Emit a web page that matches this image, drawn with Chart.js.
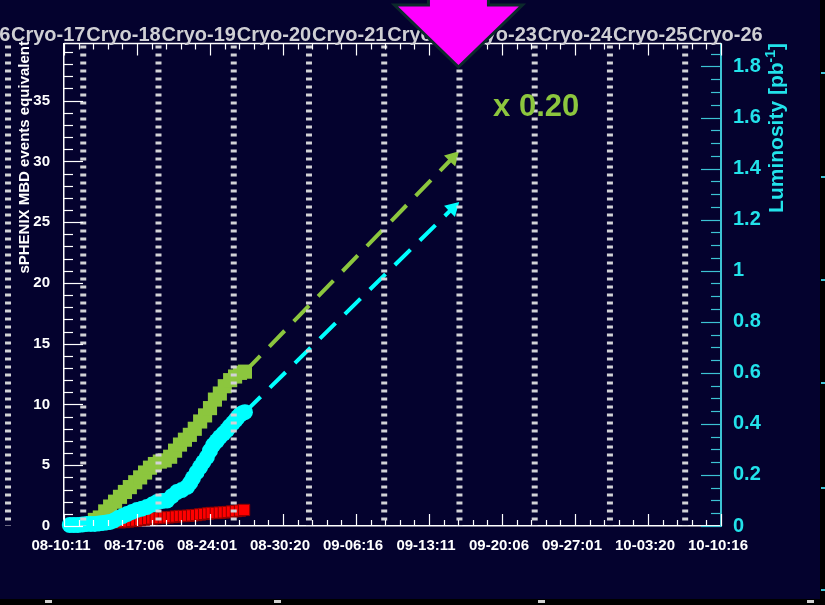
<!DOCTYPE html>
<html lang="en">
<head>
<meta charset="UTF-8">
<title>sPHENIX MBD events and luminosity</title>
<script src="https://cdn.jsdelivr.net/npm/chart.js"></script>
<style>
  html, body { margin: 0; padding: 0; background: #04022e; }
  #wrap { width: 825px; height: 605px; }
</style>
</head>
<body>
<div id="wrap"><canvas id="lumiChart" width="825" height="605"></canvas></div>
<script>
// x values are hours since 08-10 11:00
const xTickLabels = ["08-10:11", "08-17:06", "08-24:01", "08-30:20", "09-06:16",
                     "09-13:11", "09-20:06", "09-27:01", "10-03:20", "10-10:16"];
const xTickStep = 163;

// weekly cryo markers
const cryoNames = ["Cryo-16", "Cryo-17", "Cryo-18", "Cryo-19", "Cryo-20", "Cryo-21",
                   "Cryo-22", "Cryo-23", "Cryo-24", "Cryo-25", "Cryo-26"];
const cryoHours = [-293, -125, 43, 211, 379, 547, 715, 883, 1051, 1219, 1387];
const arrowCryo = "Cryo-23";

// MBD events (x 0.20), left axis
const greenHours  = [69, 80, 92, 103, 114, 125, 136, 147, 159, 170, 181, 192, 203, 214, 225, 237,
                     248, 259, 270, 281, 292, 304, 315, 326, 337, 348, 359, 371, 382, 393, 404];
const greenEvents = [0.5, 0.7, 1.2, 1.6, 2.0, 2.4, 2.8, 3.2, 3.6, 4.0, 4.4, 4.8, 5.1, 5.3, 5.4, 5.7,
                     6.2, 6.7, 7.1, 7.5, 8.0, 8.6, 9.1, 9.7, 10.4, 10.9, 11.5, 12.0, 12.3, 12.6, 12.7];

// luminosity, right axis
const cyanHours = [13, 22, 31, 41, 51, 60, 69, 78, 87, 95, 103, 112, 121, 131, 141, 152, 163, 174,
                   185, 197, 208, 219, 230, 241, 252, 263, 275, 282, 288, 296, 304, 311, 319, 326,
                   333, 341, 348, 356, 364, 370, 377, 383, 388, 393, 398, 404];
const cyanLumi  = [0.004, 0.004, 0.004, 0.006, 0.008, 0.008, 0.008, 0.01, 0.012, 0.014, 0.016, 0.022,
                   0.031, 0.039, 0.047, 0.055, 0.063, 0.068, 0.074, 0.084, 0.094, 0.098, 0.10, 0.117,
                   0.133, 0.141, 0.153, 0.17, 0.188, 0.21, 0.231, 0.25, 0.27, 0.295, 0.317, 0.333,
                   0.348, 0.362, 0.376, 0.39, 0.403, 0.415, 0.426, 0.436, 0.442, 0.446];

// red series, left axis
const redHours  = [125, 134, 143, 152, 161, 170, 179, 188, 197, 205, 214, 223, 232, 241, 250, 259,
                   268, 277, 286, 295, 304, 313, 322, 330, 339, 348, 357, 366, 375, 384, 393, 402];
const redEvents = [0.3, 0.33, 0.37, 0.41, 0.45, 0.49, 0.53, 0.58, 0.62, 0.66, 0.66, 0.68, 0.71, 0.74,
                   0.78, 0.82, 0.82, 0.84, 0.87, 0.9, 0.95, 0.99, 1.03, 1.07, 1.07, 1.1, 1.12, 1.15,
                   1.19, 1.23, 1.27, 1.32];

// projections to the arrow
const greenProjHours = [404, 868];
const greenProjEvents = [12.7, 30.3];
const cyanProjHours = [404, 868];
const cyanProjLumi = [0.446, 1.245];

const scaleNote = { text: "x 0.20", hour: 958, events: 33.7 };

const bg = '#04022e';
const green = '#8cc63e';
const cyan = '#00ffff';
const axisCyan = '#3cc3d3';
const labelCyan = '#22e2ea';
const font = "'Liberation Sans', Arial, Helvetica, sans-serif";
Chart.defaults.font.family = font;

const pts = (xs, ys) => xs.map((x, i) => ({ x: x, y: ys[i] }));

function line(ctx, x1, y1, x2, y2) {
  ctx.beginPath();
  ctx.moveTo(x1, y1);
  ctx.lineTo(x2, y2);
  ctx.stroke();
}

const rootDecor = {
  id: 'rootDecor',
  beforeDraw(chart) {
    const ctx = chart.ctx;
    ctx.save();
    ctx.fillStyle = bg;
    ctx.fillRect(0, 0, chart.width, chart.height);
    ctx.restore();
  },
  afterDatasetsDraw(chart) {
    // dotted cryo lines on top of the data
    const ctx = chart.ctx;
    const { top, bottom } = chart.chartArea;
    const xs = chart.scales.x;
    ctx.save();
    ctx.strokeStyle = '#d2d2d6';
    ctx.lineWidth = 6;
    ctx.setLineDash([3, 5]);
    cryoHours.forEach(h => {
      const px = xs.getPixelForValue(h);
      line(ctx, px, top + 2, px, bottom);
    });
    ctx.restore();
  },
  afterDraw(chart) {
    const ctx = chart.ctx;
    const { left, right, top, bottom } = chart.chartArea;
    const xs = chart.scales.x, yl = chart.scales.y, yr = chart.scales.yLumi;
    ctx.save();

    // frame ticks
    ctx.strokeStyle = '#ffffff';
    ctx.lineWidth = 1.5;
    line(ctx, left, top, right, top);
    ctx.lineWidth = 1.2;
    for (let i = 0; i <= 45; i++) {
      const px = Math.round(xs.getPixelForValue(i * xTickStep / 5)) + 0.5;
      const len = i % 5 === 0 ? 12 : 6;
      line(ctx, px, bottom, px, bottom - len);
      line(ctx, px, top, px, top + len);
    }
    for (let v = 0; v <= 39; v++) {
      const py = Math.round(yl.getPixelForValue(v)) + 0.5;
      line(ctx, left, py, left + (v % 5 === 0 ? 19 : 9), py);
    }
    ctx.strokeStyle = axisCyan;
    for (let i = 0; i <= 37; i++) {
      const py = Math.round(yr.getPixelForValue(i * 0.05)) + 0.5;
      line(ctx, right, py, right - (i % 4 === 0 ? 20 : 10), py);
    }

    // cryo labels
    ctx.fillStyle = '#cfcfd4';
    ctx.font = 'bold 20px ' + font;
    ctx.textAlign = 'left';
    ctx.textBaseline = 'alphabetic';
    cryoHours.forEach((h, i) => {
      ctx.fillText(cryoNames[i], xs.getPixelForValue(h) + 3, top - 2.5);
    });

    // axis titles
    ctx.save();
    ctx.translate(29, 41);
    ctx.rotate(-Math.PI / 2);
    ctx.fillStyle = '#ffffff';
    ctx.font = 'bold 15px ' + font;
    ctx.textAlign = 'right';
    ctx.fillText('sPHENIX MBD events equivalent', 0, 0);
    ctx.restore();

    ctx.save();
    ctx.translate(783, 43);
    ctx.rotate(-Math.PI / 2);
    ctx.fillStyle = labelCyan;
    ctx.textAlign = 'left';
    const big = 'bold 21px ' + font, small = 'bold 14px ' + font;
    ctx.font = big;
    const w1 = ctx.measureText('Luminosity [pb').width;
    const w3 = ctx.measureText(']').width;
    ctx.font = small;
    const w2 = ctx.measureText('-1').width;
    ctx.font = big;
    ctx.fillText('Luminosity [pb', -(w1 + w2 + w3), 0);
    ctx.fillText(']', -w3, 0);
    ctx.font = small;
    ctx.fillText('-1', -(w2 + w3), -8);
    ctx.restore();

    // magenta arrow at the target cryo
    const cx = xs.getPixelForValue(cryoHours[cryoNames.indexOf(arrowCryo)]) - 1;
    ctx.beginPath();
    ctx.moveTo(cx - 30, -6);
    ctx.lineTo(cx + 30, -6);
    ctx.lineTo(cx + 30, 5);
    ctx.lineTo(cx + 64, 5);
    ctx.lineTo(cx, 67);
    ctx.lineTo(cx - 64, 5);
    ctx.lineTo(cx - 30, 5);
    ctx.closePath();
    ctx.fillStyle = '#ff00ff';
    ctx.fill();
    ctx.strokeStyle = '#0c2a2c';
    ctx.lineWidth = 3;
    ctx.lineJoin = 'miter';
    ctx.stroke();

    // scale factor note
    ctx.fillStyle = green;
    ctx.font = 'bold 31px ' + font;
    ctx.textAlign = 'left';
    ctx.fillText(scaleNote.text, xs.getPixelForValue(scaleNote.hour), yl.getPixelForValue(scaleNote.events));

    // outer pad edge
    ctx.fillStyle = '#000000';
    ctx.fillRect(820, 0, 5, chart.height);
    ctx.fillRect(0, 599, chart.width, 6);
    ctx.fillStyle = axisCyan;
    [73, 177, 280, 383, 488, 590].forEach(y => ctx.fillRect(821, y - 1, 4, 2));
    ctx.fillStyle = '#d0d0d0';
    [48, 277, 541, 810].forEach(x => ctx.fillRect(x - 3, 600, 7, 3));

    ctx.restore();
  }
};

new Chart(document.getElementById('lumiChart'), {
  type: 'scatter',
  data: {
    datasets: [
      {
        label: 'Luminosity',
        data: pts(cyanHours, cyanLumi),
        yAxisID: 'yLumi',
        pointStyle: 'circle',
        pointRadius: 8,
        pointBackgroundColor: cyan,
        pointBorderWidth: 0,
        clip: false
      },
      {
        label: 'Red',
        data: pts(redHours, redEvents),
        yAxisID: 'y',
        pointStyle: 'rect',
        pointRadius: 8,
        pointBackgroundColor: '#ff0000',
        pointBorderColor: '#8e0000',
        pointBorderWidth: 1,
        clip: false
      },
      {
        label: 'MBD events',
        data: pts(greenHours, greenEvents),
        yAxisID: 'y',
        pointStyle: 'rect',
        pointRadius: 10,
        pointBackgroundColor: green,
        pointBorderWidth: 0,
        clip: false
      },
      {
        label: 'MBD projection',
        data: pts(greenProjHours, greenProjEvents),
        yAxisID: 'y',
        showLine: true,
        borderColor: green,
        borderWidth: 4,
        borderDash: [22, 13],
        pointStyle: 'triangle',
        pointRadius: [0, 9],
        pointRotation: [0, 44],
        pointBackgroundColor: green,
        pointBorderWidth: 0
      },
      {
        label: 'Luminosity projection',
        data: pts(cyanProjHours, cyanProjLumi),
        yAxisID: 'yLumi',
        showLine: true,
        borderColor: cyan,
        borderWidth: 4,
        borderDash: [22, 13],
        pointStyle: 'triangle',
        pointRadius: [0, 9],
        pointRotation: [0, 46],
        pointBackgroundColor: cyan,
        pointBorderWidth: 0
      }
    ]
  },
  options: {
    responsive: false,
    animation: false,
    events: [],
    layout: { padding: { top: 43.5, left: 0, right: 0, bottom: 0 } },
    plugins: { legend: { display: false }, tooltip: { enabled: false } },
    scales: {
      x: {
        type: 'linear',
        position: 'bottom',
        min: 0,
        max: xTickStep * (xTickLabels.length - 1),
        grid: { display: false },
        border: { display: true, color: '#ffffff', width: 1.5 },
        ticks: {
          stepSize: xTickStep,
          autoSkip: false,
          maxRotation: 0,
          padding: 3,
          labelOffset: -3,
          color: '#ffffff',
          font: { size: 15, weight: 'bold' },
          callback: v => xTickLabels[Math.round(v / xTickStep)] ?? ''
        },
        afterFit: s => { s.height = 79; }
      },
      y: {
        type: 'linear',
        position: 'left',
        min: 0,
        max: 39.7,
        grid: { display: false },
        border: { display: true, color: '#ffffff', width: 1.5 },
        ticks: {
          stepSize: 5,
          includeBounds: false,
          padding: 6,
          color: '#ffffff',
          font: { size: 15, weight: 'bold' }
        },
        afterFit: s => { s.width = 64; }
      },
      yLumi: {
        type: 'linear',
        position: 'right',
        min: 0,
        max: 1.89,
        grid: { display: false },
        border: { display: true, color: axisCyan, width: 2 },
        ticks: {
          stepSize: 0.2,
          includeBounds: false,
          padding: 4,
          color: labelCyan,
          font: { size: 20, weight: 'bold' },
          callback: v => String(+v.toFixed(2))
        },
        afterFit: s => { s.width = 104; }
      }
    }
  },
  plugins: [rootDecor]
});
</script>
</body>
</html>
